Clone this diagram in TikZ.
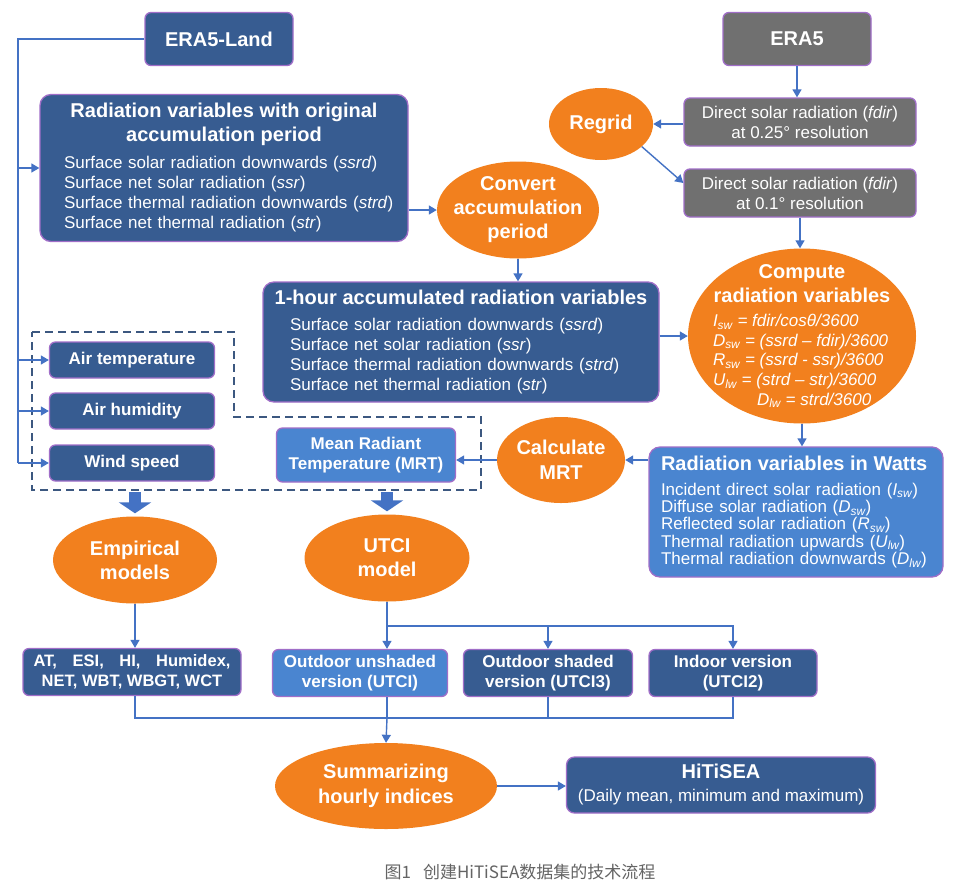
\documentclass[tikz,border=0pt]{standalone}
\usepackage{fontspec}
\setmainfont{Liberation Sans}
\newfontfamily\cjk{Noto Sans CJK SC}
\usepackage{xcolor}
\usetikzlibrary{positioning, arrows.meta, shapes.geometric}
\definecolor{navy}{RGB}{55,92,145}
\definecolor{sky}{RGB}{74,133,208}
\definecolor{slate}{RGB}{112,112,112}
\definecolor{tang}{RGB}{242,128,30}
\definecolor{rim}{RGB}{160,110,200}
\definecolor{link}{RGB}{68,114,196}
\definecolor{dashc}{RGB}{60,88,128}
\definecolor{capgray}{RGB}{100,100,100}
\newcommand\fsz[2]{\fontsize{#1pt}{#2pt}\selectfont}
\newcommand\boxttl[1]{\makebox[\linewidth]{\bfseries\fsz{20}{24}#1}}
\newcommand\idx[1]{\textsubscript{#1}}
\newcommand\eqline[1]{\makebox[178pt][l]{\itshape #1}}
\tikzset{
  navybox/.style={rectangle, draw=rim, line width=1.3pt, rounded corners=6pt,
                  fill=navy, text=white, align=center, inner sep=0pt,
                  font=\bfseries\fsz{17}{20}},
  skybox/.style={navybox, fill=sky},
  graybox/.style={navybox, fill=slate, font=\fsz{17}{20}},
  oval/.style={ellipse, fill=tang, draw=none, inner sep=0pt},
  ovtxt/.style={text=white, align=center, font=\bfseries\fsz{20}{24}},
  arr/.style={-{Triangle[length=8pt,width=9pt]}, line width=1.4pt, draw=link},
  wire/.style={line width=1.4pt, draw=link},
  fatarr/.style={-{Triangle[length=11pt,width=32pt]}, line width=12pt, draw=link},
}
\begin{document}
\begin{tikzpicture}[x=1pt, y=-1pt]
  \fill[white] (0,0) rectangle (955,887);
  \useasboundingbox (0,0) rectangle (955,887);
  % data sources
  \node[navybox, font=\bfseries\fsz{20}{24}, minimum width=148pt, minimum height=53pt] (land) at (219,39) {ERA5-Land};
  \node[graybox, font=\bfseries\fsz{20}{24}, minimum width=148pt, minimum height=53pt] (era5) at (797,39) {ERA5};
  % radiation chain (left)
  \node[navybox, rounded corners=11pt, font=\fsz{17}{20}, align=left, text width=320pt,
        minimum width=368pt, minimum height=147pt] (radorig) at (224,168)
    {\boxttl{Radiation variables with original}\\[4pt]
     \boxttl{accumulation period}\\[7pt]
     \mbox{Surface solar radiation downwards (\textit{ssrd})}\\
     \mbox{Surface net solar radiation (\textit{ssr})}\\
     \mbox{Surface thermal radiation downwards (\textit{strd})}\\
     \mbox{Surface net thermal radiation (\textit{str})}};
  \node[oval, minimum width=162pt, minimum height=97pt,
        label={[ovtxt]center:{Convert\\accumulation\\period}}] (conv) at (518,210) {};
  \node[navybox, rounded corners=11pt, font=\fsz{17}{20}, align=left, text width=342pt,
        minimum width=396pt, minimum height=120pt] (onehr) at (461,342)
    {\boxttl{1-hour accumulated radiation variables}\\[6pt]
     Surface solar radiation downwards (\textit{ssrd})\\
     Surface net solar radiation (\textit{ssr})\\
     Surface thermal radiation downwards (\textit{strd})\\
     Surface net thermal radiation (\textit{str})};
  % direct radiation chain (right)
  \node[graybox, minimum width=232pt, minimum height=48pt] (fdir25) at (800,122)
    {Direct solar radiation (\textit{fdir})\\at 0.25° resolution};
  \node[oval, minimum width=104pt, minimum height=72pt,
        label={[ovtxt]center:Regrid}] (regrid) at (601,124) {};
  \node[graybox, minimum width=232pt, minimum height=48pt] (fdir01) at (800,193)
    {Direct solar radiation (\textit{fdir})\\at 0.1° resolution};
  \node[oval, minimum width=228pt, minimum height=175pt,
        label={[ovtxt, font=\fsz{17}{19.7}]center:{%
          {\bfseries\fsz{20}{24}Compute}\\[4.3pt]
          {\bfseries\fsz{20}{24}radiation variables}\\[4.8pt]
          \eqline{I\idx{sw} = fdir/cosθ/3600}\\
          \eqline{D\idx{sw} = (ssrd – fdir)/3600}\\
          \eqline{R\idx{sw} = (ssrd - ssr)/3600}\\
          \eqline{U\idx{lw} = (strd – str)/3600}\\
          \eqline{\hspace*{44pt}D\idx{lw} = strd/3600}}}] (comp) at (802,336) {};
  \node[skybox, rounded corners=11pt, font=\fsz{17}{17.3}, align=left, text width=270pt,
        minimum width=294pt, minimum height=130pt] (watts) at (796,512)
    {\mbox{\bfseries\fsz{20}{24}Radiation variables in Watts}\\[7.7pt]
     \mbox{Incident direct solar radiation (\textit{I\idx{sw}})}\\
     \mbox{Diffuse solar radiation (\textit{D\idx{sw}})}\\
     \mbox{Reflected solar radiation (\textit{R\idx{sw}})}\\
     \mbox{Thermal radiation upwards (\textit{U\idx{lw}})}\\
     \mbox{Thermal radiation downwards (\textit{D\idx{lw}})}};
  \node[oval, minimum width=128pt, minimum height=86pt,
        label={[ovtxt, font=\bfseries\fsz{20}{25}]center:{Calculate\\MRT}}] (calc) at (561,460) {};
  \node[skybox, minimum width=179pt, minimum height=54pt] (mrt) at (366,455)
    {Mean Radiant\\Temperature (MRT)};
  % meteorological inputs
  \node[navybox, minimum width=165pt, minimum height=36pt] (airt) at (132,360) {Air temperature};
  \node[navybox, minimum width=165pt, minimum height=36pt] (airh) at (132,411) {Air humidity};
  \node[navybox, minimum width=165pt, minimum height=36pt] (wind) at (132,463) {Wind speed};
  \draw[dashc, line width=2.4pt, dash pattern=on 8pt off 5pt]
    (32,332) -- (234,332) -- (234,417) -- (481,417) -- (481,490) -- (32,490) -- cycle;
  \coordinate (dashbot) at (0,492);
  % models
  \node[oval, minimum width=164pt, minimum height=87pt,
        label={[ovtxt]center:{Empirical\\models}}] (emp) at (135,560) {};
  \node[oval, minimum width=165pt, minimum height=87pt,
        label={[ovtxt]center:{UTCI\\model}}] (utci) at (387,558) {};
  \node[navybox, font=\bfseries\fsz{16.5}{20}, minimum width=218pt, minimum height=47pt] (at) at (132,672)
    {\makebox[197pt][s]{AT, ESI, HI, Humidex,}\\NET, WBT, WBGT, WCT};
  \node[skybox, minimum width=175pt, minimum height=47pt] (unsh) at (360,673)
    {Outdoor unshaded\\version (UTCI)};
  \node[navybox, minimum width=169pt, minimum height=47pt] (shad) at (548,673)
    {Outdoor shaded\\version (UTCI3)};
  \node[navybox, minimum width=168pt, minimum height=47pt] (indoor) at (733,673)
    {Indoor version\\(UTCI2)};
  % output
  \node[oval, minimum width=222pt, minimum height=86pt,
        label={[ovtxt, font=\bfseries\fsz{20}{25}]center:{Summarizing\\hourly indices}}] (summ) at (386,786) {};
  \node[navybox, rounded corners=8pt, font=\fsz{17}{20}, minimum width=309pt, minimum height=56pt] (hitisea) at (721,785)
    {{\bfseries\fsz{20}{24}HiTiSEA}\\[3pt](Daily mean, minimum and maximum)};
  \node[font=\cjk\fsz{17}{20}, text=capgray] (cap) at (520,872) {图1\hspace{12pt}创建HiTiSEA数据集的技术流程};
  % connectors
  \coordinate (spine) at (18,39);
  \draw[wire] (land.west) -- (spine) -- (spine |- wind.west);
  \foreach \n in {radorig, airt, airh, wind}
    \draw[arr] (spine |- \n.west) -- (\n.west);
  \draw[arr] (radorig.east |- conv.west) -- (conv.west);
  \draw[arr] (conv.south) -- (conv.south |- onehr.north);
  \draw[arr] (onehr.east |- comp.west) -- (comp.west);
  \draw[arr] (era5.south) -- (era5.south |- fdir25.north);
  \draw[arr] (fdir25.west |- regrid.east) -- (regrid.east);
  \draw[arr] (regrid.-29) -- ([yshift=10pt]fdir01.west);
  \draw[arr] (fdir01.south) -- (fdir01.south |- comp.north);
  \draw[arr] (comp.south) -- (comp.south |- watts.north);
  \draw[arr] (watts.west |- calc.east) -- (calc.east);
  \draw[arr] (calc.west) -- (calc.west -| mrt.east);
  \draw[fatarr] (emp.north |- dashbot) -- ([yshift=3pt]emp.north);
  \draw[fatarr] (utci.north |- dashbot) -- ([yshift=3pt]utci.north);
  \draw[arr] (emp.south) -- (emp.south |- at.north);
  \coordinate (split) at (387,626);
  \draw[arr] (utci.south) -- (utci.south |- unsh.north);
  \draw[arr] (split) -| (shad.north);
  \draw[arr] (split) -| (indoor.north);
  \coordinate (merge) at (387,718);
  \draw[wire] (emp.south |- at.south) |- (merge);
  \draw[wire] (split |- unsh.south) -- (merge);
  \draw[wire] (shad.south) |- (merge);
  \draw[wire] (indoor.south) |- (merge);
  \draw[arr] (merge) -- (summ.north);
  \draw[arr] (summ.east) -- (summ.east -| hitisea.west);
\end{tikzpicture}
\end{document}
